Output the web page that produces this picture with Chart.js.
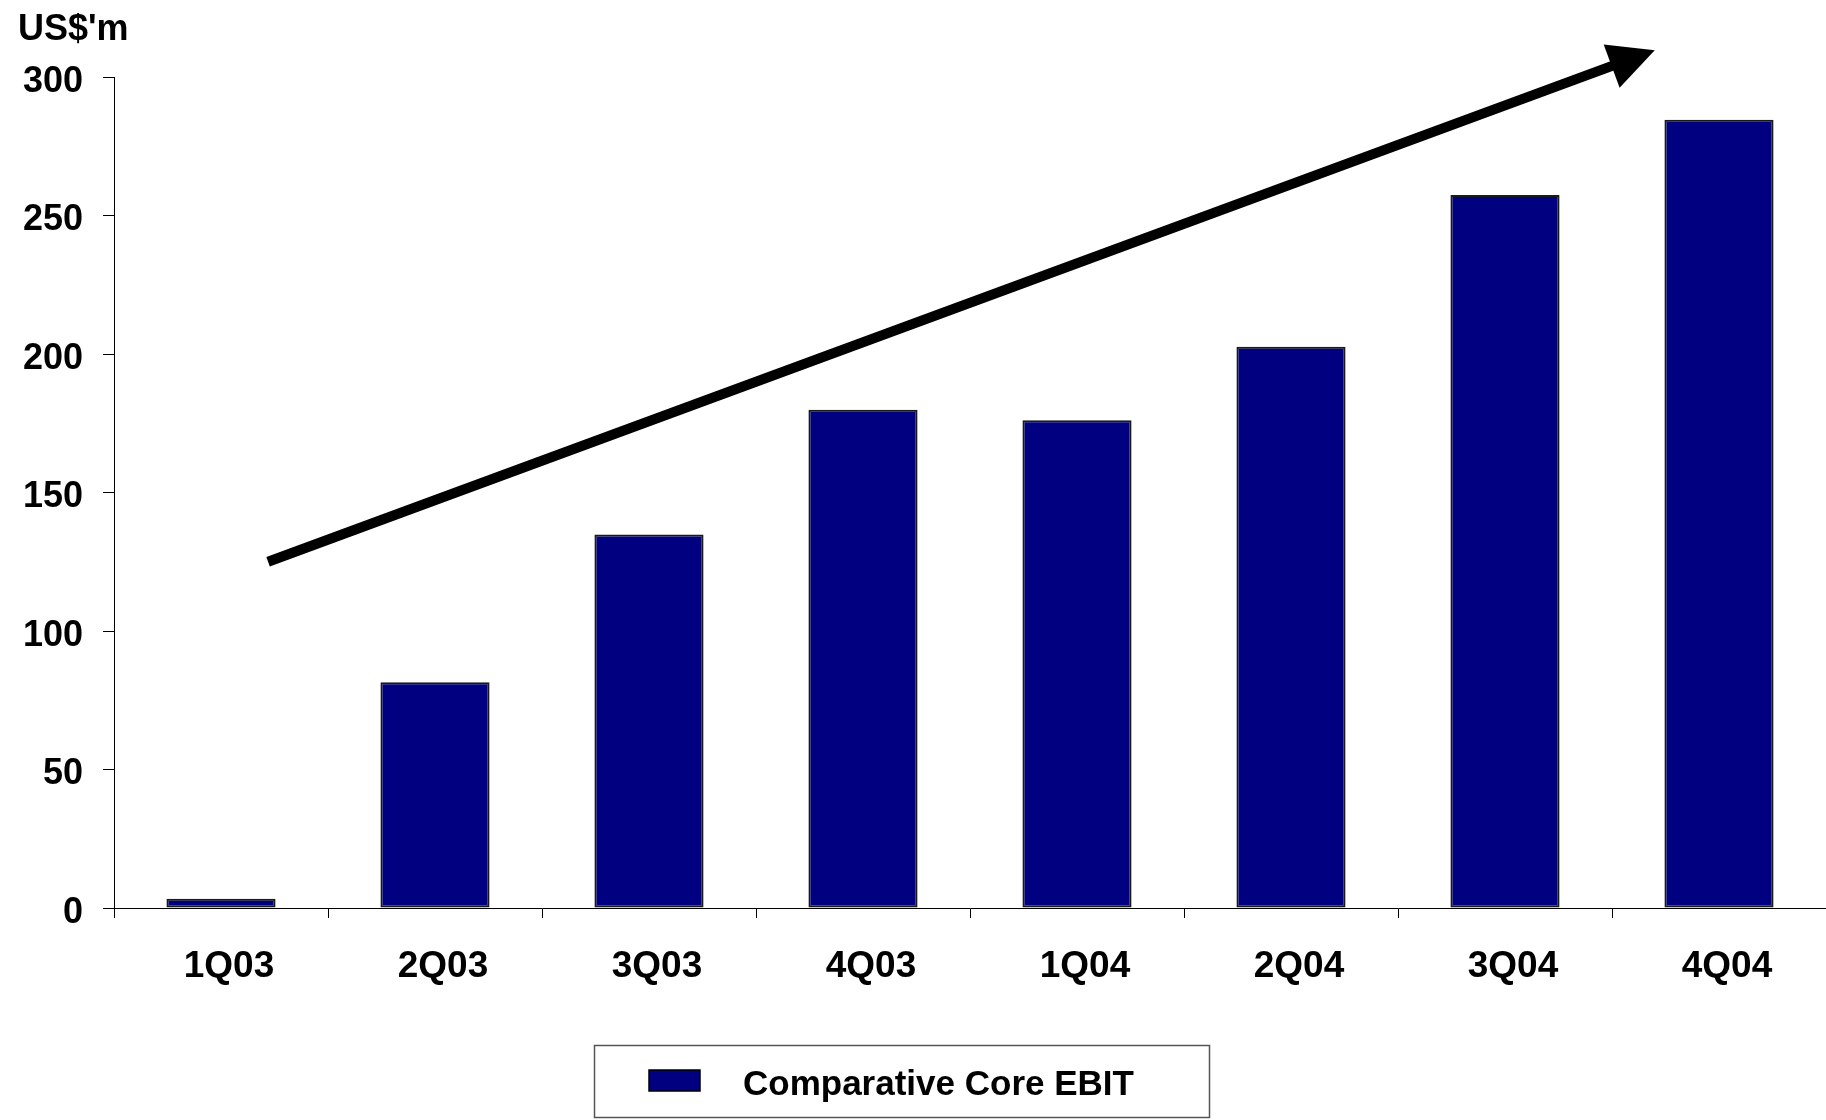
<!DOCTYPE html>
<html lang="en">

<head>
  <meta charset="UTF-8" />
  <title>Comparative Core EBIT</title>
  <script src="https://cdn.jsdelivr.net/npm/chart.js"></script>
</head>
<style>
  body {
    margin: 0;
    background: #fff;
  }

  .graphe {
    width: 1826px;
    height: 1120px;
    position: relative;
  }
</style>

<body>
  <div class="graphe">
    <canvas id="myChart"></canvas>
  </div>

  <script>
    const quarters = ['1Q03', '2Q03', '3Q03', '4Q03', '1Q04', '2Q04', '3Q04', '4Q04'];
    const ebit = [3.3, 81.5, 134.8, 179.9, 176.1, 202.6, 257.4, 284.6];
    const seriesName = 'Comparative Core EBIT';
    const unitLabel = "US$'m";
    const yTicks = [0, 50, 100, 150, 200, 250, 300];

    const FONT = '"Liberation Sans", Arial, sans-serif';

    // arrow over the bars, ends given in scale units (category index, value)
    const trendArrow = {
      id: 'trendArrow',
      afterDatasetsDraw(chart) {
        const { ctx, scales: { x, y } } = chart;
        const x0 = x.getPixelForValue(0.22), y0 = y.getPixelForValue(125);
        const x1 = x.getPixelForValue(6.7), y1 = y.getPixelForValue(309.7);
        const ang = Math.atan2(y1 - y0, x1 - x0);
        const headLen = 46, headHalf = 23;
        const bx = x1 - headLen * Math.cos(ang), by = y1 - headLen * Math.sin(ang);
        ctx.save();
        ctx.strokeStyle = '#000';
        ctx.fillStyle = '#000';
        ctx.lineWidth = 10;
        ctx.lineCap = 'butt';
        ctx.beginPath();
        ctx.moveTo(x0, y0);
        ctx.lineTo(bx + 2 * Math.cos(ang), by + 2 * Math.sin(ang));
        ctx.stroke();
        ctx.beginPath();
        ctx.moveTo(x1, y1);
        ctx.lineTo(bx + headHalf * Math.sin(ang), by - headHalf * Math.cos(ang));
        ctx.lineTo(bx - headHalf * Math.sin(ang), by + headHalf * Math.cos(ang));
        ctx.closePath();
        ctx.fill();
        ctx.restore();
      }
    };

    // unit label + boxed legend
    const extras = {
      id: 'extras',
      afterDraw(chart) {
        const ctx = chart.ctx;
        const ds = chart.data.datasets[0];
        ctx.save();
        ctx.font = 'bold 36px ' + FONT;
        ctx.fillStyle = '#000';
        ctx.textBaseline = 'alphabetic';
        ctx.textAlign = 'left';
        ctx.fillText(unitLabel, 18, 40);

        ctx.strokeStyle = '#555';
        ctx.lineWidth = 1.5;
        ctx.strokeRect(594.5, 1045.5, 615, 72);
        ctx.fillStyle = ds.backgroundColor;
        ctx.fillRect(649, 1070, 51, 21);
        ctx.strokeStyle = '#000';
        ctx.lineWidth = 1.5;
        ctx.strokeRect(649, 1070, 51, 21);
        ctx.fillStyle = '#000';
        ctx.font = 'bold 35px ' + FONT;
        ctx.textBaseline = 'middle';
        ctx.fillText(ds.label, 743, 1085);
        ctx.restore();
      }
    };

    new Chart(document.getElementById('myChart'), {
      type: 'bar',
      data: {
        labels: quarters,
        datasets: [{
          label: seriesName,
          data: ebit,
          backgroundColor: '#000080',
          borderColor: '#1a1a1a',
          borderWidth: 2,
          borderSkipped: false,
          categoryPercentage: 1,
          barPercentage: 0.51
        }]
      },
      options: {
        responsive: true,
        maintainAspectRatio: false,
        animation: false,
        layout: { padding: { top: 77, right: 0, bottom: 0, left: 0 } },
        plugins: {
          legend: { display: false },
          tooltip: { enabled: false }
        },
        scales: {
          x: {
            grid: { drawOnChartArea: false, tickLength: 10, color: '#000', offset: true },
            border: { color: '#000', width: 1 },
            ticks: { color: '#000', padding: 27, labelOffset: 8, font: { family: FONT, size: 37, weight: 'bold' } },
            afterFit(scale) { scale.height = 212; }
          },
          y: {
            min: 0,
            max: 300,
            afterBuildTicks(scale) { scale.ticks = yTicks.map(v => ({ value: v })); },
            grid: { drawOnChartArea: false, tickLength: 11, color: '#000' },
            border: { color: '#000', width: 1 },
            ticks: { color: '#000', padding: 20, labelOffset: 5, font: { family: FONT, size: 36, weight: 'bold' } },
            afterFit(scale) { scale.width = 114; }
          }
        }
      },
      plugins: [trendArrow, extras]
    });
  </script>
</body>

</html>
